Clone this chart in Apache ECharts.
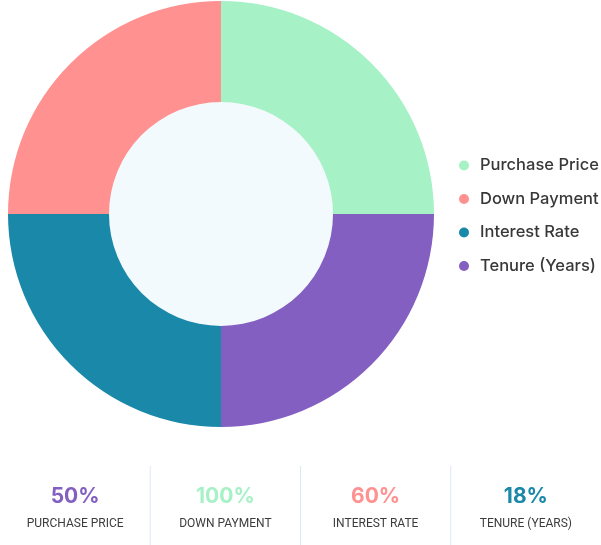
<!DOCTYPE html>
<html>
<head>
<meta charset="utf-8">
<script src="https://cdn.jsdelivr.net/npm/echarts@6/dist/echarts.min.js"></script>
<style>
  html, body { margin: 0; padding: 0; background: #fff; }
  #chart { width: 601px; height: 545px; }
</style>
</head>
<body>
<div id="chart"></div>
<script>
// slices (equal shares in the donut)
const categories = ["Purchase Price", "Down Payment", "Interest Rate", "Tenure (Years)"];
const sliceValues = [25, 25, 25, 25];
const sliceColors = ["#a6f1c6", "#ff9191", "#1a88a8", "#845fc2"];

// stat strip under the chart
const statLabels = ["PURCHASE PRICE", "DOWN PAYMENT", "INTEREST RATE", "TENURE (YEARS)"];
const statValues = ["50%", "100%", "60%", "18%"];
const statColors = ["#845fc2", "#a6f1c6", "#ff9191", "#1a88a8"];

var myChart = echarts.init(document.getElementById("chart"));

const colW = 150.25;
const graphic = [];
statLabels.forEach(function (lab, i) {
  const cx = colW * i + colW / 2;
  graphic.push({
    type: "text",
    x: cx, y: 497,
    style: {
      text: statValues[i], fill: statColors[i],
      font: "bold 21px Inter, 'Noto Sans', sans-serif",
      textAlign: "center", textVerticalAlign: "middle"
    }
  });
  graphic.push({
    type: "text",
    x: cx, y: 524,
    style: {
      text: lab, fill: "#3c3c3c",
      font: "12px Roboto, 'Noto Sans', sans-serif",
      textAlign: "center", textVerticalAlign: "middle"
    }
  });
  if (i > 0) {
    graphic.push({
      type: "line",
      shape: { x1: colW * i, y1: 466, x2: colW * i, y2: 545 },
      style: { stroke: "#dde9f2", lineWidth: 1 }
    });
  }
});

const option = {
  backgroundColor: "#fff",
  legend: {
    orient: "vertical",
    left: 454,
    top: 152,
    data: categories,
    icon: "circle",
    itemWidth: 10,
    itemHeight: 10,
    itemGap: 16.5,
    textStyle: {
      fontSize: 16.5, fontWeight: 500, color: "#383838",
      fontFamily: "Inter, 'Noto Sans', sans-serif",
      padding: [0, 0, 0, 6]
    }
  },
  graphic: graphic,
  series: [
    {
      type: "pie",
      center: [221, 214],
      radius: [0, 112],
      silent: true,
      label: { show: false },
      itemStyle: { color: "#f3fafd" },
      data: [{ value: 1, name: "" }]
    },
    {
      type: "pie",
      center: [221, 214],
      radius: [112, 213],
      startAngle: 0,
      clockwise: false,
      silent: true,
      label: { show: false },
      labelLine: { show: false },
      data: categories.map(function (c, i) {
        return { name: c, value: sliceValues[i], itemStyle: { color: sliceColors[i] } };
      })
    }
  ]
};
myChart.setOption(option);
</script>
</body>
</html>
